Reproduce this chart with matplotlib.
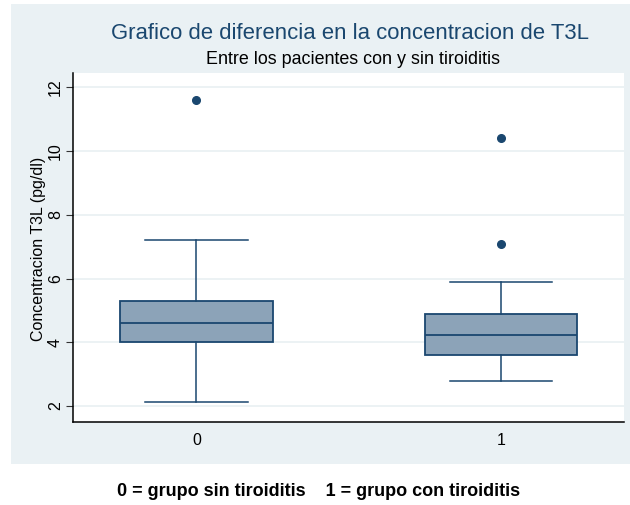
import matplotlib
matplotlib.use("Agg")
import matplotlib.pyplot as plt
from matplotlib.patches import Rectangle

plt.rcParams['font.family'] = ['Liberation Sans', 'DejaVu Sans']

# Summary statistics of free T3 concentration per group
groups = ["0", "1"]
whisker_low = [2.13, 2.8]
q1 = [4.0, 3.6]
median = [4.6, 4.23]
q3 = [5.3, 4.9]
whisker_high = [7.2, 5.9]
outliers = [[11.6], [10.4, 7.1]]

title = "Grafico de diferencia en la concentracion de T3L"
subtitle = "Entre los pacientes con y sin tiroiditis"
ylabel = "Concentracion T3L (pg/dl)"
caption = "0 = grupo sin tiroiditis    1 = grupo con tiroiditis"
yticks = [2, 4, 6, 8, 10, 12]

navy = "#1a476f"
fill = "#8ca3b8"
panel = "#eaf1f4"
grid = "#eaf1f3"

fig = plt.figure(figsize=(6.3, 5.05), dpi=100)
fig.patch.set_facecolor("white")

# Outer shaded graph region
fig.patches.append(Rectangle((11 / 630, 1 - 464 / 505), (630 - 11) / 630, (464 - 4) / 505,
                             transform=fig.transFigure, facecolor=panel,
                             edgecolor="none", zorder=0))

ax = fig.add_axes([73.3 / 630, 1 - 422.3 / 505, (624 - 73.3) / 630, (422.3 - 72.5) / 505])
ax.set_zorder(2)
ax.set_facecolor("white")

stats = []
for i, g in enumerate(groups):
    stats.append(dict(label=g, whislo=whisker_low[i], q1=q1[i], med=median[i],
                      q3=q3[i], whishi=whisker_high[i], fliers=outliers[i]))

positions = list(range(len(groups)))
ax.bxp(stats, positions=positions, widths=0.5, patch_artist=True,
       boxprops=dict(facecolor=fill, edgecolor=navy, linewidth=1.3),
       medianprops=dict(color=navy, linewidth=1.3),
       whiskerprops=dict(color=navy, linewidth=1.1),
       capprops=dict(color=navy, linewidth=1.1),
       capwidths=0.337,
       flierprops=dict(marker="o", markerfacecolor=navy, markeredgecolor=navy,
                       markersize=5.5),
       zorder=3)

ax.set_xlim(-0.404, 1.404)
ax.set_ylim(1.49, 12.47)
ax.set_yticks(yticks)
ax.set_yticklabels([str(t) for t in yticks], rotation=90, va="center", fontsize=11.5)
ax.set_xticks(positions)
ax.set_xticklabels(groups, fontsize=11.5)
ax.tick_params(axis="x", length=0, pad=8)
ax.tick_params(axis="y", length=5, width=0.8, pad=2.5, color="#333333")
ax.yaxis.grid(True, color=grid, linewidth=1.3, zorder=0)
ax.set_axisbelow(True)

for side in ("top", "right"):
    ax.spines[side].set_visible(False)
for side in ("left", "bottom"):
    ax.spines[side].set_linewidth(1.1)
    ax.spines[side].set_color("black")

ax.set_ylabel(ylabel, fontsize=11.5)
ax.yaxis.set_label_coords(-0.05, 0.497)

fig.text(350 / 630, 1 - 33 / 505, title, ha="center", va="center",
         fontsize=15.9, color=navy)
fig.text(353 / 630, 1 - 60 / 505, subtitle, ha="center", va="center",
         fontsize=12.9, color="black")
fig.text(319 / 630, 1 - 492 / 505, caption, ha="center", va="center",
         fontsize=13, fontweight="bold", color="black")

fig.savefig("out.png", dpi=100)
